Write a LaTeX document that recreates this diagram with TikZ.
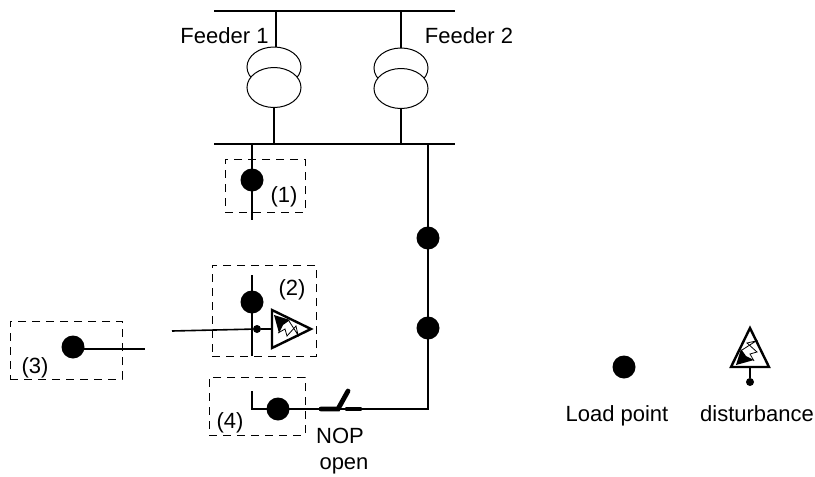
\documentclass[tikz,border=0pt]{standalone}
\usepackage{fontspec}
\setmainfont{Liberation Sans}
\usetikzlibrary{positioning,shapes.geometric}

\tikzset{
    lbl/.style={inner sep=0pt, anchor=base, font=\fontsize{11}{13}\selectfont},
    load/.style={circle, fill=black, inner sep=0pt, minimum size=11.5pt},
    tap/.style={circle, fill=black, inner sep=0pt, minimum size=4pt},
    area/.style={draw, dashed, dash pattern=on 4pt off 3pt, line width=0.4pt, inner sep=0pt},
    coil/.style={ellipse, draw, fill=white, inner sep=0pt, minimum width=27pt, minimum height=20pt, line width=0.5pt},
    thin line/.style={line width=0.55pt},
    main line/.style={line width=1.1pt},
    switch/.style={line width=2.4pt, line cap=round},
    disturb/.pic={
        \coordinate (-base) at (0,39);
        \draw[line width=1.2pt, line join=miter] (0,0) -- (-19,39) -- (19,39) -- cycle;
        \draw[line width=0.4pt] (-8,22) -- (6,13) -- (-3,15) -- (7,24) -- (0,26) -- (4,33);
        \fill (-14,37) -- (-9,21) -- (-4,28) -- (4,32) -- cycle;
    }
}

\begin{document}
\begin{tikzpicture}[x=0.5pt, y=-0.5pt]
    \useasboundingbox (0,0) rectangle (815,477);

    % Bus bars
    \coordinate (topL) at (214,11);
    \coordinate (topR) at (455,11);
    \coordinate (busL) at (214,144);
    \coordinate (busR) at (455,144);
    \draw[thin line] (topL) -- (topR);
    \draw[thin line] (busL) -- (busR);

    % Transformers
    \node[coil] (coilA) at (274,67) {};
    \node[coil] (coilB) at (274,87.5) {};
    \node[coil] (coilC) at (401,68) {};
    \node[coil] (coilD) at (401,88.5) {};
    \coordinate (dropA) at (276,47);
    \draw[thin line] (dropA) -- (dropA |- topL);
    \draw[thin line] (coilC.north) -- (coilC.north |- topL);
    \draw[thin line] (coilB.south) -- (coilB.south |- busL);
    \draw[thin line] (coilD.south) -- (coilD.south |- busL);

    % Dashed areas
    \node[area, minimum width=40pt, minimum height=26.5pt] (areaA) at (265,185.5) {};
    \node[area, minimum width=52pt, minimum height=45.5pt] (areaB) at (264,310.5) {};
    \node[area, minimum width=56pt, minimum height=29pt] (areaC) at (66,350) {};
    \node[area, minimum width=48pt, minimum height=29pt] (areaD) at (257,406) {};

    % Load points
    \node[load] (loadA) at (252,180) {};
    \node[load] (loadB) at (252,302) {};
    \node[load] (loadC) at (73,347) {};
    \node[load] (loadD) at (278,409) {};
    \node[load] (loadE) at (428,238) {};
    \node[load] (loadF) at (428,328) {};
    \node[load] (loadG) at (624,367) {};

    % Lines
    \coordinate (mainA) at (252,144);
    \coordinate (endA) at (252,220);
    \coordinate (topB) at (252,275);
    \coordinate (endB) at (252,356);
    \coordinate (endC) at (145,349);
    \coordinate (endD) at (172,331);
    \coordinate (topD) at (252,391);
    \coordinate (cornerD) at (252,409);
    \coordinate (mainR) at (428,144);
    \coordinate (cornerR) at (428,409);
    \draw[main line] (mainA) -- (endA);
    \draw[main line] (topB) -- (endB);
    \draw[main line] (loadC.center) ++(0,2) -- (endC);
    \draw[main line] (mainR) -- (cornerR) -- (cornerD) -- (topD);

    % Disturbance symbols
    \node[tap] (tapA) at (257,329) {};
    \pic[rotate=-90] (distA) at (311,329) {disturb};
    \draw[line width=0.8pt] (endD) -- (tapA);
    \draw[thin line] (tapA) -- (distA-base);
    \node[tap] (tapB) at (750,382) {};
    \pic (distB) at (750,328) {disturb};
    \draw[thin line] (distB-base) -- (tapB);

    % NOP switch
    \coordinate (swA) at (321,409);
    \coordinate (swB) at (338,409);
    \coordinate (swC) at (348,391);
    \coordinate (swD) at (347,409);
    \coordinate (swE) at (360,409);
    \draw[switch] (swA) -- (swB) -- (swC);
    \draw[switch] (swD) -- (swE);

    % Labels
    \node[lbl] (feedA) at (224.5,43) {Feeder 1};
    \node[lbl] (feedB) at (469,43) {Feeder 2};
    \node[lbl] (numA) at (284,202) {(1)};
    \node[lbl] (numB) at (292,295) {(2)};
    \node[lbl] (numC) at (35,373) {(3)};
    \node[lbl] (numD) at (230,428) {(4)};
    \node[lbl] (nop) at (340,443) {NOP};
    \node[lbl] (open) at (344,469) {open};
    \node[lbl] (legA) at (617,421) {Load point};
    \node[lbl] (legB) at (757,421) {disturbance};
\end{tikzpicture}
\end{document}
